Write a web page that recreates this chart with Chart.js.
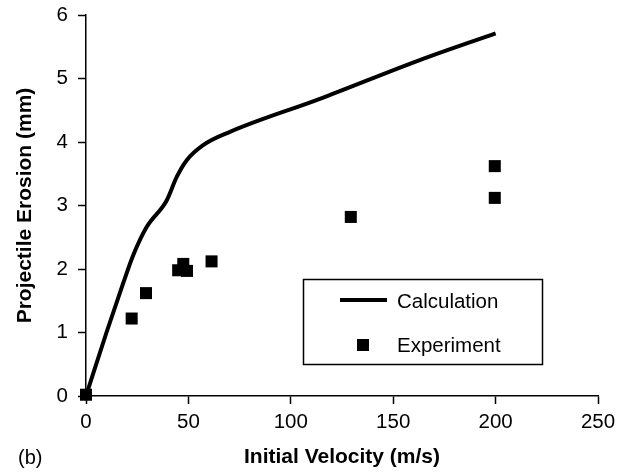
<!DOCTYPE html>
<html>
<head>
<meta charset="utf-8">
<script src="https://cdn.jsdelivr.net/npm/chart.js@4"></script>
<style>
  body { margin: 0; background: #fff; }
  #wrap { width: 622px; height: 475px; }
</style>
</head>
<body>
<div id="wrap"><canvas id="erosionChart" width="622" height="475"></canvas></div>
<script>
// calculation curve (velocity m/s -> erosion mm)
const calcVelocity = [0, 10, 18.2, 23.1, 29.6, 39.4, 44.3, 49.1, 57.2, 70.3, 114.2, 163, 200];
const calcErosion  = [0, 1.0, 1.78, 2.22, 2.66, 3.08, 3.45, 3.71, 3.95, 4.16, 4.68, 5.29, 5.71];

// experimental points
const expVelocity = [0, 22.3, 29.3, 45, 47.5, 49.3, 61.3, 129.3, 199.6, 199.6];
const expErosion  = [0.02, 1.22, 1.62, 1.98, 2.08, 1.97, 2.12, 2.82, 3.62, 3.12];

const xTicks = [0, 50, 100, 150, 200, 250];
const yTicks = [0, 1, 2, 3, 4, 5, 6];

const FONT = "'Liberation Sans', Arial, sans-serif";

function toPoints(xs, ys) {
  return xs.map((x, i) => ({ x: x, y: ys[i] }));
}

// boxed legend inside the plot + the "(b)" panel label
const boxLegend = {
  id: 'boxLegend',
  afterDraw(chart) {
    const ctx = chart.ctx;
    const ds = chart.data.datasets;
    ctx.save();
    ctx.strokeStyle = '#000';
    ctx.lineWidth = 1.5;
    ctx.strokeRect(303.5, 279.5, 239, 85);

    ctx.strokeStyle = ds[0].borderColor;
    ctx.lineWidth = ds[0].borderWidth;
    ctx.beginPath();
    ctx.moveTo(340, 300);
    ctx.lineTo(387, 300);
    ctx.stroke();

    ctx.fillStyle = ds[1].backgroundColor;
    ctx.fillRect(357, 339, 12, 12);

    ctx.fillStyle = '#000';
    ctx.font = '20.5px ' + FONT;
    ctx.textBaseline = 'middle';
    ctx.textAlign = 'left';
    ctx.fillText(ds[0].label, 397, 302);
    ctx.fillText(ds[1].label, 397, 346);

    ctx.font = '20px ' + FONT;
    ctx.fillText('(b)', 18, 458);
    ctx.restore();
  }
};

const ctx = document.getElementById('erosionChart').getContext('2d');
const erosionChart = new Chart(ctx, {
  type: 'scatter',
  data: {
    datasets: [
      {
        label: 'Calculation',
        data: toPoints(calcVelocity, calcErosion),
        showLine: true,
        borderColor: '#000',
        borderWidth: 4,
        pointRadius: 0,
        cubicInterpolationMode: 'monotone',
        clip: false
      },
      {
        label: 'Experiment',
        data: toPoints(expVelocity, expErosion),
        showLine: false,
        pointStyle: 'rect',
        pointRadius: 8.5,
        backgroundColor: '#000',
        borderColor: '#000',
        borderWidth: 0,
        clip: false
      }
    ]
  },
  options: {
    responsive: false,
    animation: false,
    layout: { padding: { top: 15, right: 24, left: 0, bottom: 0 } },
    plugins: {
      legend: { display: false },
      tooltip: { enabled: false }
    },
    scales: {
      x: {
        type: 'linear',
        min: 0,
        max: 250,
        afterBuildTicks: (s) => { s.ticks = xTicks.map(v => ({ value: v })); },
        afterFit: (s) => { s.height = 79; s.paddingLeft = 0; s.paddingRight = 0; },
        border: { color: '#000', width: 1.5 },
        grid: { drawOnChartArea: false, tickLength: 8, tickColor: '#000', tickWidth: 1.5 },
        ticks: { color: '#000', font: { family: FONT, size: 20.5 }, padding: 6, maxRotation: 0 },
        title: {
          display: true,
          text: 'Initial Velocity (m/s)',
          color: '#000',
          font: { family: FONT, size: 21, weight: 'bold' },
          padding: { top: 0, bottom: 5 }
        }
      },
      y: {
        type: 'linear',
        min: 0,
        max: 6,
        afterBuildTicks: (s) => { s.ticks = yTicks.map(v => ({ value: v })); },
        afterFit: (s) => { s.width = 86; s.paddingTop = 0; s.paddingBottom = 0; },
        border: { color: '#000', width: 1.5 },
        grid: { drawOnChartArea: false, tickLength: 8, tickColor: '#000', tickWidth: 1.5 },
        ticks: { color: '#000', font: { family: FONT, size: 20.5 }, padding: 10 },
        title: {
          display: true,
          text: 'Projectile Erosion (mm)',
          color: '#000',
          font: { family: FONT, size: 21, weight: 'bold' },
          padding: { top: 13, bottom: 0 }
        }
      }
    }
  },
  plugins: [boxLegend]
});
</script>
</body>
</html>
